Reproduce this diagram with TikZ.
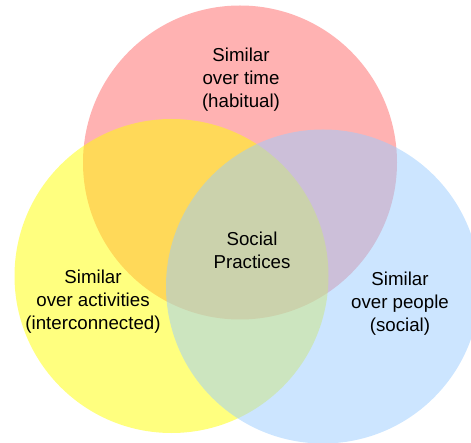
\documentclass[tikz,border=0pt]{standalone}
\usepackage{fontspec}
\setmainfont{Liberation Sans}
\definecolor{cred}{HTML}{FF6666}
\definecolor{cyellow}{HTML}{FFFF00}
\definecolor{cblue}{HTML}{99CCFF}
\begin{document}
\begin{tikzpicture}[x=1pt,y=-1pt,
  setfill/.style={fill opacity=0.5},
  lbl/.style={align=center,inner sep=0pt,font={\fontsize{18.7}{23}\selectfont},text=black}]
\useasboundingbox (0,0) rectangle (471,443);
\fill[cred,setfill] (240,162.5) circle[radius=157pt];
\fill[cyellow,setfill] (171.5,276) circle[radius=157pt];
\fill[cblue,setfill] (323,286.5) circle[radius=157pt];
\node[lbl] (time) at (241,80) {Similar\\over time\\(habitual)};
\node[lbl] (center) at (252,250.5) {Social\\Practices};
\node[lbl] (act) at (93,302) {Similar\\over activities\\(interconnected)};
\node[lbl] (people) at (400,304) {Similar\\over people\\(social)};
\end{tikzpicture}
\end{document}
